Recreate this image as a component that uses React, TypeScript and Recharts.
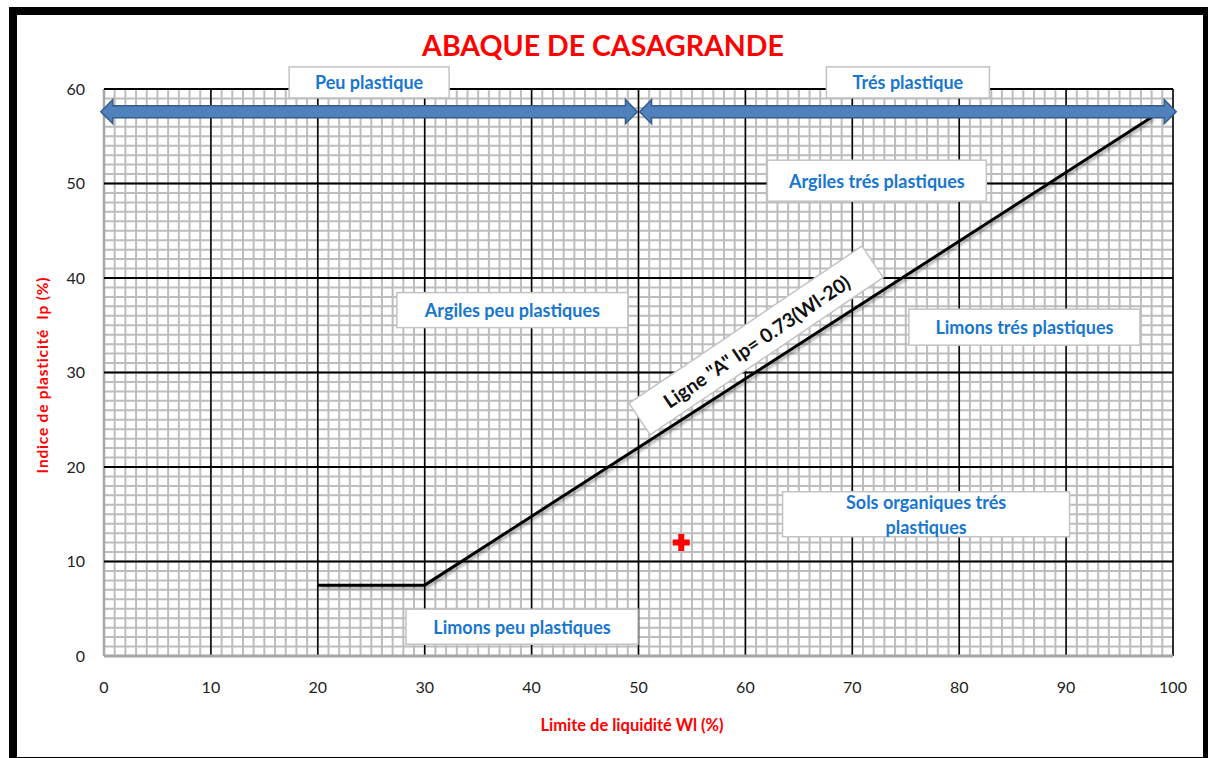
import React from "react";
import { ComposedChart, Line, Scatter, XAxis, YAxis, ReferenceLine, ReferenceDot } from "recharts";

// axes
const wlTicks = [0, 10, 20, 30, 40, 50, 60, 70, 80, 90, 100];
const ipTicks = [0, 10, 20, 30, 40, 50, 60];
const wlMinor = Array.from({ length: 101 }, (_, i) => i);
const ipMinor = Array.from({ length: 61 }, (_, i) => i);

// ligne A : Ip = 0.73 (Wl - 20), palier a 7.5
const ligneA = [
  { wl: 20, ip: 7.5 },
  { wl: 30, ip: 7.5 },
  { wl: 98, ip: 57 },
];

// echantillon
const echantillons = [{ wl: 54, ip: 12 }];

// bandes de plasticite (fleches)
const bandes = [
  { label: "Peu plastique", from: -0.3, to: 49.9 },
  { label: "Trés plastique", from: 50.1, to: 100.3 },
];
const bandeIp = 57.6;
const bandeLabelIp = 60.7;

// zones de l'abaque
const zones = [
  { lines: ["Argiles trés plastiques"], wl: 72.3, ip: 50.3 },
  { lines: ["Argiles peu plastiques"], wl: 38.2, ip: 36.6 },
  { lines: ["Limons trés plastiques"], wl: 86.1, ip: 34.8 },
  { lines: ["Sols organiques trés", "plastiques"], wl: 76.9, ip: 15.0 },
  { lines: ["Limons peu plastiques"], wl: 39.1, ip: 3.1 },
];
const ligneALabel = { text: 'Ligne "A" Ip= 0.73(Wl-20)', wl: 61.0, ip: 33.4 };

const boxSize: Record<string, [number, number]> = {
  "Peu plastique": [160, 31],
  "Trés plastique": [163, 31],
  "Argiles trés plastiques": [219, 41],
  "Argiles peu plastiques": [231, 35],
  "Limons trés plastiques": [231, 36],
  "Sols organiques trés": [287, 45],
  "Limons peu plastiques": [232, 35],
};

const BLUE_TXT = "#1876d0";
const FONT = "Lato, 'Open Sans', sans-serif";

function TextBox(p: any) {
  const { cx, cy, lines } = p;
  const [w, h] = boxSize[lines[0]];
  const lh = 25;
  const y0 = cy - ((lines.length - 1) * lh) / 2;
  return (
    <g>
      <rect x={cx - w / 2} y={cy - h / 2} width={w} height={h} fill="#fff" stroke="#c3c3c3" strokeWidth={1.5} />
      {lines.map((t: string, i: number) => (
        <text
          key={i}
          x={cx}
          y={y0 + i * lh}
          textAnchor="middle"
          dominantBaseline="central"
          fill={BLUE_TXT}
          fontFamily={FONT}
          fontWeight={700}
          fontSize={18}
        >
          {t}
        </text>
      ))}
    </g>
  );
}

function RotatedBox(p: any) {
  const { cx, cy, text } = p;
  const w = 281;
  const h = 38;
  return (
    <g transform={`rotate(-34 ${cx} ${cy})`}>
      <rect x={cx - w / 2} y={cy - h / 2} width={w} height={h} fill="#fff" stroke="#c3c3c3" strokeWidth={1.5} />
      <text
        x={cx}
        y={cy + 1}
        textAnchor="middle"
        dominantBaseline="central"
        fill="#111"
        fontFamily={FONT}
        fontWeight={700}
        fontSize={19.5}
      >
        {text}
      </text>
    </g>
  );
}

function DoubleArrow(p: any) {
  const { x1, y1, x2 } = p;
  const a = Math.min(x1, x2);
  const b = Math.max(x1, x2);
  const head = 12;
  const hh = 12;
  const sh = 6;
  const y = y1;
  const d = [
    `M${a},${y}`,
    `L${a + head},${y - hh}`,
    `L${a + head},${y - sh}`,
    `L${b - head},${y - sh}`,
    `L${b - head},${y - hh}`,
    `L${b},${y}`,
    `L${b - head},${y + hh}`,
    `L${b - head},${y + sh}`,
    `L${a + head},${y + sh}`,
    `L${a + head},${y + hh}`,
    "Z",
  ].join(" ");
  return <path d={d} fill="#4f81bd" stroke="#385d8a" strokeWidth={1.5} />;
}

function Plus(p: any) {
  const { cx, cy } = p;
  const s = 8.5;
  const t = 3;
  const d = `M${cx - t},${cy - s} H${cx + t} V${cy - t} H${cx + s} V${cy + t} H${cx + t} V${cy + s} H${cx - t} V${cy + t} H${cx - s} V${cy - t} H${cx - t} Z`;
  return <path d={d} fill="#ff0000" />;
}

export default function App() {
  return (
    <div style={{ position: "relative", width: 1208, height: 758, overflow: "hidden", background: "#fff" }}>
      <style>{`body{margin:0} .recharts-line-curve{filter:drop-shadow(2px 2px 1.5px rgba(0,0,0,0.35))}`}</style>
      <div
        style={{
          position: "absolute",
          left: 9,
          top: 7,
          width: 1202,
          height: 758,
          border: "8px solid #000",
          boxSizing: "border-box",
        }}
      />
      <div
        style={{
          position: "absolute",
          left: 603,
          top: 45,
          transform: "translate(-50%,-50%)",
          color: "#ff0000",
          fontFamily: FONT,
          fontWeight: 700,
          fontSize: 28.5,
          whiteSpace: "nowrap",
        }}
      >
        ABAQUE DE CASAGRANDE
      </div>
      <div
        style={{
          position: "absolute",
          left: 42,
          top: 375,
          transform: "translate(-50%,-50%) rotate(-90deg)",
          color: "#ff0000",
          fontFamily: FONT,
          fontWeight: 700,
          fontSize: 15.5,
          letterSpacing: 0.8,
          whiteSpace: "nowrap",
        }}
      >
        Indice de plasticité&nbsp; Ip (%)
      </div>
      <div
        style={{
          position: "absolute",
          left: 632,
          top: 725,
          transform: "translate(-50%,-50%)",
          color: "#ff0000",
          fontFamily: FONT,
          fontWeight: 700,
          fontSize: 16.5,
          whiteSpace: "nowrap",
        }}
      >
        Limite de liquidité Wl (%)
      </div>
      <div style={{ position: "absolute", left: 0, top: 0 }}>
        <ComposedChart width={1208} height={758} margin={{ top: 89, right: 35, bottom: 42, left: 44 }}>
          <XAxis
            type="number"
            dataKey="wl"
            domain={[0, 100]}
            ticks={wlTicks}
            allowDataOverflow
            axisLine={false}
            tickLine={false}
            tickSize={0}
            tickMargin={26}
            height={60}
            tick={{ fill: "#222", fontSize: 16, fontFamily: FONT }}
          />
          <YAxis
            type="number"
            dataKey="ip"
            domain={[0, 60]}
            ticks={ipTicks}
            allowDataOverflow
            axisLine={false}
            tickLine={false}
            tickSize={0}
            tickMargin={19}
            width={60}
            tick={{ fill: "#222", fontSize: 16, fontFamily: FONT }}
          />
          {wlMinor.map((v) => (
            <ReferenceLine key={"mx" + v} x={v} stroke="#bdbdbd" strokeWidth={2} zIndex={-100} />
          ))}
          {ipMinor.map((v) => (
            <ReferenceLine key={"my" + v} y={v} stroke="#bdbdbd" strokeWidth={2} zIndex={-100} />
          ))}
          {wlTicks.map((v) => (
            <ReferenceLine
              key={"Mx" + v}
              x={v}
              stroke={v === 0 ? "#a6a6a6" : "#000"}
              strokeWidth={v === 0 ? 2.5 : 1.5}
              zIndex={-90}
            />
          ))}
          {ipTicks.map((v) => (
            <ReferenceLine
              key={"My" + v}
              y={v}
              stroke={v === 0 ? "#a6a6a6" : "#000"}
              strokeWidth={v === 0 ? 3 : 2}
              zIndex={-90}
            />
          ))}
          <Line
            data={ligneA}
            dataKey="ip"
            type="linear"
            stroke="#000"
            strokeWidth={3}
            dot={false}
            activeDot={false}
            isAnimationActive={false}
            zIndex={400}
          />
          {bandes.map((b) => (
            <ReferenceLine
              key={b.label}
              segment={[
                { x: b.from, y: bandeIp },
                { x: b.to, y: bandeIp },
              ]}
              ifOverflow="visible"
              shape={(p: any) => <DoubleArrow {...p} />}
              zIndex={500}
            />
          ))}
          {bandes.map((b) => (
            <ReferenceDot
              key={"l" + b.label}
              x={(b.from + b.to) / 2}
              y={bandeLabelIp}
              ifOverflow="visible"
              shape={(p: any) => <TextBox {...p} lines={[b.label]} />}
              zIndex={700}
            />
          ))}
          {zones.map((z) => (
            <ReferenceDot
              key={z.lines[0]}
              x={z.wl}
              y={z.ip}
              ifOverflow="visible"
              shape={(p: any) => <TextBox {...p} lines={z.lines} />}
              zIndex={700}
            />
          ))}
          <ReferenceDot
            x={ligneALabel.wl}
            y={ligneALabel.ip}
            ifOverflow="visible"
            shape={(p: any) => <RotatedBox {...p} text={ligneALabel.text} />}
            zIndex={700}
          />
          <Scatter data={echantillons} dataKey="ip" shape={(p: any) => <Plus {...p} />} isAnimationActive={false} zIndex={800} />
        </ComposedChart>
      </div>
    </div>
  );
}
